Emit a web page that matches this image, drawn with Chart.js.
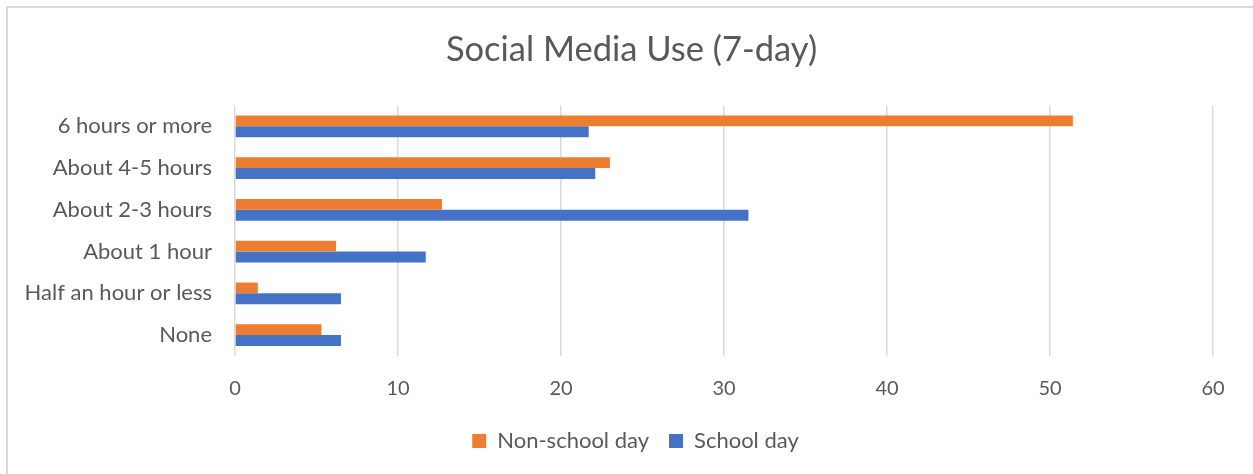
<!DOCTYPE html>
<html>
<head>
<meta charset="utf-8">
<script src="https://cdn.jsdelivr.net/npm/chart.js@4.4.0/dist/chart.umd.min.js"></script>
<style>
  html, body { margin: 0; padding: 0; background: #fff; }
  #wrap { position: relative; width: 1253px; height: 474px; }
  #frame { position: absolute; left: 6px; top: 6px; right: 0; bottom: 0;
           border-top: 2px solid #d9d9d9; border-left: 2px solid #d9d9d9; }
  canvas { position: absolute; left: 0; top: 0; }
</style>
</head>
<body>
<div id="wrap">
  <div id="frame"></div>
  <canvas id="myChart" width="1253" height="474"></canvas>
</div>
<script>
const labels = ["6 hours or more", "About 4-5 hours", "About 2-3 hours", "About 1 hour", "Half an hour or less", "None"];
const nonSchoolDay = [51.4, 23.0, 12.7, 6.2, 1.4, 5.3];
const schoolDay = [21.7, 22.1, 31.5, 11.7, 6.5, 6.5];
const xTicks = [0, 10, 20, 30, 40, 50, 60];

const textColor = "#595959";
const fontFamily = "Lato, 'Open Sans', sans-serif";
Chart.defaults.font.family = fontFamily;
Chart.defaults.color = textColor;

const data = {
    labels: labels,
    datasets: [
        {
            label: "Non-school day",
            data: nonSchoolDay,
            backgroundColor: "#ED7D31",
            borderWidth: 0,
            categoryPercentage: 0.52,
            barPercentage: 1,
        },
        {
            label: "School day",
            data: schoolDay,
            backgroundColor: "#4472C4",
            borderWidth: 0,
            categoryPercentage: 0.52,
            barPercentage: 1,
        },
    ],
};

// nudge title and legend to the right, like the original (centred over the plot more than the page)
const shiftBoxes = {
    id: "shiftBoxes",
    afterLayout(chart) {
        if (chart.legend) chart.legend.left += 58;
        if (chart.titleBlock) chart.titleBlock.left += 50;
    },
};

const config = {
    type: "bar",
    data,
    plugins: [shiftBoxes],
    options: {
        indexAxis: "y",
        responsive: false,
        animation: false,
        layout: {
            padding: { left: 0, right: 40, top: 0, bottom: 12 },
        },
        plugins: {
            title: {
                display: true,
                text: "Social Media Use (7-day)",
                color: textColor,
                font: { size: 34.5, weight: "normal" },
                padding: { top: 29, bottom: 35 },
            },
            legend: {
                position: "bottom",
                labels: {
                    boxWidth: 14,
                    boxHeight: 14,
                    padding: 20,
                    color: textColor,
                    font: { size: 22 },
                },
            },
            tooltip: { enabled: false },
        },
        scales: {
            x: {
                min: 0,
                max: 60,
                afterBuildTicks: (scale) => {
                    scale.ticks = xTicks.map((v) => ({ value: v }));
                },
                afterFit: (scale) => {
                    scale.height = 54;
                },
                grid: {
                    color: "#d9d9d9",
                    lineWidth: 1.5,
                    drawTicks: false,
                },
                border: { display: false },
                ticks: {
                    padding: 21,
                    color: textColor,
                    font: { size: 20 },
                },
            },
            y: {
                afterFit: (scale) => {
                    scale.width = 235;
                },
                grid: { display: false, drawTicks: false },
                border: { display: false },
                ticks: {
                    padding: 23,
                    color: textColor,
                    font: { size: 22 },
                },
            },
        },
    },
};

const ctx = document.getElementById("myChart").getContext("2d");
const chart = new Chart(ctx, config);
</script>
</body>
</html>
